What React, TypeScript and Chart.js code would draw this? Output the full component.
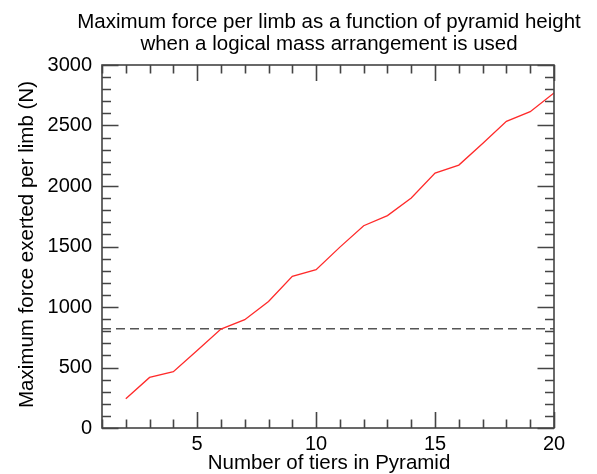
import React, { useEffect, useRef } from "react";
import { Chart, registerables } from "chart.js";

Chart.register(...registerables);

// ---- Data ----
const tiers = [2, 3, 4, 5, 6, 7, 8, 9, 10, 11, 12, 13, 14, 15, 16, 17, 18, 19, 20];
const maxForce = [242, 418, 465, 641, 818, 895, 1046, 1253, 1308, 1495, 1672, 1755, 1901, 2107, 2173, 2352, 2534, 2614, 2769];
const thresholdForce = 820;
const xRange = [1, 20];
const yRange = [0, 3000];
const xTickLabels = [5, 10, 15, 20];
const yTickLabels = [0, 500, 1000, 1500, 2000, 2500, 3000];
const xMinorStep = 1;
const yMinorStep = 100;
const titleLines = [
  "Maximum force per limb as a function of pyramid height",
  "when a logical mass arrangement is used",
];
const xTitle = "Number of tiers in Pyramid";
const yTitle = "Maximum force exerted per limb (N)";

const FONT = "'Liberation Sans', Arial, Helvetica, sans-serif";
const AXIS_COLOR = "#444444";

const framePlugin = {
  id: "frame",
  afterDraw(chart: any) {
    const { ctx, chartArea } = chart;
    const { left, right, top, bottom } = chartArea;
    const xs = chart.scales.x;
    const ys = chart.scales.y;
    ctx.save();
    ctx.strokeStyle = AXIS_COLOR;
    ctx.lineWidth = 1.6;
    ctx.strokeRect(left, top, right - left, bottom - top);
    ctx.beginPath();
    for (let v = xRange[0]; v <= xRange[1]; v += xMinorStep) {
      const major = v % 5 === 0;
      const len = major ? 16 : 8.5;
      const px = Math.round(xs.getPixelForValue(v)) + 0.5;
      ctx.moveTo(px, bottom);
      ctx.lineTo(px, bottom - len);
      ctx.moveTo(px, top);
      ctx.lineTo(px, top + len);
    }
    for (let v = yRange[0]; v <= yRange[1]; v += yMinorStep) {
      const major = v % 500 === 0;
      const len = major ? 16.5 : 9;
      const py = Math.round(ys.getPixelForValue(v)) + 0.5;
      ctx.moveTo(left, py);
      ctx.lineTo(left + len, py);
      ctx.moveTo(right, py);
      ctx.lineTo(right - len, py);
    }
    ctx.stroke();

    // texts
    ctx.fillStyle = "#000";
    ctx.textAlign = "center";
    ctx.textBaseline = "middle";
    ctx.font = `20.5px ${FONT}`;
    const cx = (left + right) / 2;
    ctx.fillText(titleLines[0], cx + 1, top - 43);
    ctx.fillText(titleLines[1], cx + 1, top - 21);
    ctx.fillText(xTitle, cx + 1, bottom + 35);
    ctx.save();
    ctx.translate(left - 75, (top + bottom) / 2 - 2);
    ctx.rotate(-Math.PI / 2);
    ctx.fillText(yTitle, 0, 0);
    ctx.restore();
    ctx.restore();
  },
};

export default function App() {
  const ref = useRef<HTMLCanvasElement | null>(null);
  useEffect(() => {
    if (!ref.current) return;
    const chart = new Chart(ref.current, {
      type: "line",
      data: {
        datasets: [
          {
            data: tiers.map((t, i) => ({ x: t, y: maxForce[i] })),
            borderColor: "#ff2a2a",
            borderWidth: 1.3,
            pointRadius: 0,
            tension: 0,
          },
          {
            data: [
              { x: xRange[0], y: thresholdForce },
              { x: xRange[1], y: thresholdForce },
            ],
            borderColor: "#555555",
            borderWidth: 1.5,
            borderDash: [9, 5],
            pointRadius: 0,
          },
        ],
      },
      options: {
        animation: false,
        responsive: false,
        devicePixelRatio: 1,
        layout: { padding: { left: 0, right: 43, top: 65, bottom: 0 } },
        plugins: { legend: { display: false }, tooltip: { enabled: false }, title: { display: false } },
        scales: {
          x: {
            type: "linear",
            min: xRange[0],
            max: xRange[1],
            grid: { display: false, drawTicks: false },
            border: { display: false },
            afterBuildTicks: (s: any) => {
              s.ticks = xTickLabels.map((v) => ({ value: v }));
            },
            afterFit: (s: any) => {
              s.height = 46;
            },
            ticks: {
              padding: 4,
              color: "#000",
              maxRotation: 0,
              autoSkip: false,
              font: { family: FONT, size: 20 },
              callback: (v: any) => String(v),
            },
          },
          y: {
            type: "linear",
            min: yRange[0],
            max: yRange[1],
            grid: { display: false, drawTicks: false },
            border: { display: false },
            afterBuildTicks: (s: any) => {
              s.ticks = yTickLabels.map((v) => ({ value: v }));
            },
            afterFit: (s: any) => {
              s.width = 102;
            },
            ticks: {
              padding: 10,
              color: "#000",
              autoSkip: false,
              font: { family: FONT, size: 20 },
              callback: (v: any) => String(v),
            },
          },
        },
      },
      plugins: [framePlugin],
    });
    return () => chart.destroy();
  }, []);
  return (
    <div style={{ position: "absolute", left: 0, top: 0, width: 597, height: 474, background: "#fff" }}>
      <canvas ref={ref} width={597} height={474} style={{ width: 597, height: 474, display: "block" }} />
    </div>
  );
}
